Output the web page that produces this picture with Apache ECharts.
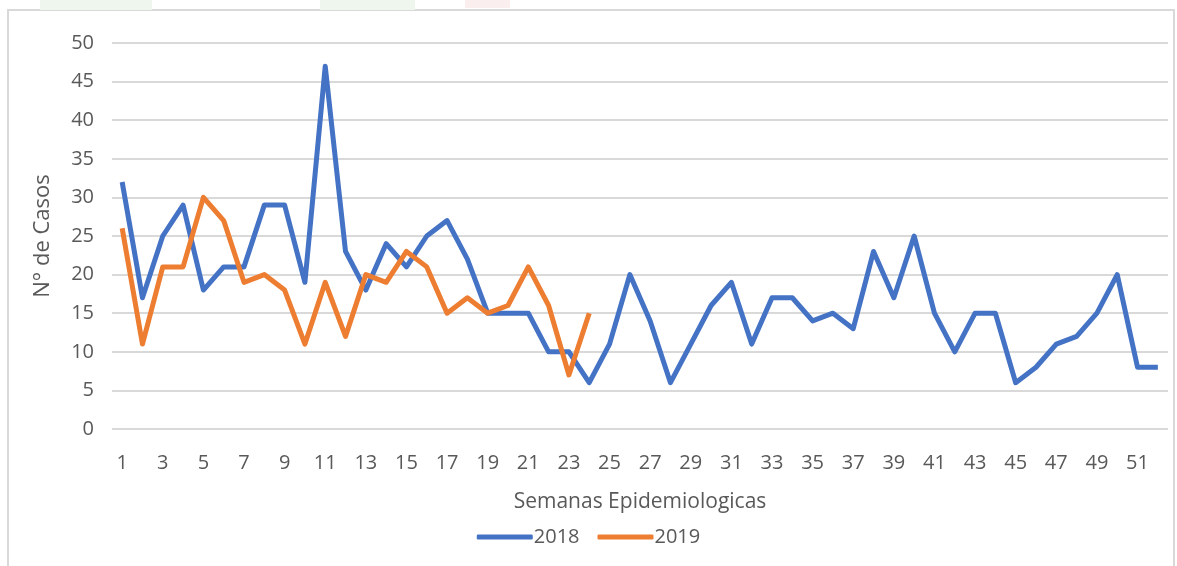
<!DOCTYPE html>
<html><head><meta charset="utf-8">
<script src="https://cdn.jsdelivr.net/npm/echarts@6/dist/echarts.min.js"></script>
<style>html,body{margin:0;padding:0;background:#fff}#c{width:1177px;height:566px}</style>
</head><body><div id="c"></div>
<script>
const weeks = Array.from({length:52},(_,i)=>String(i+1));
const s2018 = [32,17,25,29,18,21,21,29,29,19,47,23,18,24,21,25,27,22,15,15,15,10,10,6,11,20,14,6,11,16,19,11,17,17,14,15,13,23,17,25,15,10,15,15,6,8,11,12,15,20,8,8];
const s2019 = [26,11,21,21,30,27,19,20,18,11,19,12,20,19,23,21,15,17,15,16,21,16,7,15];
const yTitle = 'N° de Casos';
const xTitle = 'Semanas Epidemiologicas';
const FONT = 'Open Sans';
const chart = echarts.init(document.getElementById('c'));
chart.setOption({
  animation:false,
  textStyle:{fontFamily:FONT},
  graphic:[
    {type:'rect',shape:{x:8,y:10,width:1166,height:560},style:{fill:'none',stroke:'#d9d9d9',lineWidth:2},z:-1},
    {type:'rect',shape:{x:40,y:0,width:112,height:10},style:{fill:'#eef6ee'},z:-1},
    {type:'rect',shape:{x:320,y:0,width:95,height:10},style:{fill:'#eef6ee'},z:-1},
    {type:'rect',shape:{x:465,y:0,width:45,height:8},style:{fill:'#fbeeee'},z:-1}
  ],
  grid:{left:112,right:9,top:43,bottom:137,containLabel:false},
  legend:{data:['2018','2019'],bottom:14,left:'center',itemWidth:56,itemHeight:5,itemGap:18,
    icon:'roundRect',textStyle:{color:'#595959',fontSize:20,fontFamily:FONT,padding:[0,0,0,-4]}},
  xAxis:{type:'category',data:weeks,boundaryGap:true,
    name:xTitle,nameLocation:'middle',nameGap:63,nameTextStyle:{color:'#595959',fontSize:21,fontFamily:FONT},
    axisLine:{show:false},axisTick:{show:false},
    axisLabel:{interval:1,color:'#595959',fontSize:20,margin:24,fontFamily:FONT}},
  yAxis:{type:'value',min:0,max:50,interval:5,
    name:yTitle,nameLocation:'middle',nameGap:58,nameRotate:90,nameTextStyle:{color:'#595959',fontSize:22,fontFamily:FONT},
    axisLine:{show:false},axisTick:{show:false},
    axisLabel:{color:'#595959',fontSize:20,margin:18,fontFamily:FONT},
    splitLine:{lineStyle:{color:'#d9d9d9',width:2}}},
  series:[
    {name:'2018',type:'line',data:s2018,symbol:'none',lineStyle:{color:'#4472C4',width:5,join:'round'},itemStyle:{color:'#4472C4'}},
    {name:'2019',type:'line',data:s2019,symbol:'none',lineStyle:{color:'#ED7D31',width:5,join:'round'},itemStyle:{color:'#ED7D31'}}
  ]
});
</script></body></html>
